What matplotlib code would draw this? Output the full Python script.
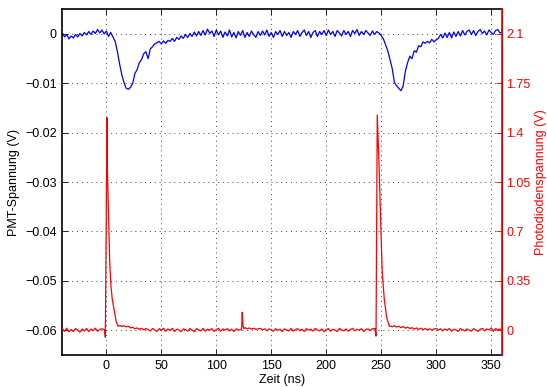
import numpy as np
import matplotlib
matplotlib.use("Agg")
import matplotlib.pyplot as plt
from matplotlib.ticker import FixedLocator, FixedFormatter

plt.rcParams['font.family'] = ['Liberation Sans', 'DejaVu Sans']
plt.rcParams['font.size'] = 9

# sampling grid (ns), 2 ns steps
t = np.arange(-40, 362, 2)

# PMT signal in mV, one value per grid point
pmt_mV = [
    0.2, -0.6, -0.1, -1.0, -0.4, -0.8, -0.1, -0.6, 0.1, -0.4,
    0.3, -0.2, 0.5, -0.1, 0.6, 0.1, 0.9, 0.2, 0.8, 0.0,
    0.6, -0.5, 0.3, -0.6, -1.5, -3.5, -6.0, -8.2, -9.8, -11.0,
    -11.2, -10.8, -10.0, -8.0, -7.2, -5.8, -5.2, -4.0, -3.6, -5.0,
    -3.0, -2.6, -2.0, -1.8, -1.5, -2.0, -1.4, -1.9, -1.3, -1.5,
    -0.9, -1.5, -0.7, -1.1, -0.4, -0.9, -0.1, -0.7, 0.1, -0.5,
    0.4, -0.4, 0.5, -0.3, 0.7, -0.2, 1.0, 0.1, 0.6, -0.5,
    0.8, -0.2, 0.6, -0.7, 0.4, -0.4, 0.8, -0.6, 0.3, -0.8,
    0.5, -0.3, 0.7, -0.7, 0.3, -0.5, 0.6, -0.1, -0.7, 0.5,
    -0.3, 0.6, -0.2, 0.8, -0.5, 0.3, -0.7, 0.5, -0.1, 0.7,
    -0.5, 0.5, -0.3, 0.3, -0.7, 0.5, -0.1, 0.7, -0.5, 0.3,
    0.8, -0.3, 0.5, -0.7, 0.3, 0.7, -0.5, 0.5, -0.1, 0.7,
    -0.3, 0.8, -0.1, 0.5, -0.5, 0.7, 0.2, -0.4, 0.7, -0.1,
    0.5, -0.5, 0.7, 0.1, 0.9, -0.3, 0.5, -0.1, 0.7, 0.2,
    -0.3, 0.6, -0.1, 0.5, 0.2, -0.3, -1.0, -2.2, -3.4, -5.2,
    -7.0, -9.8, -10.5, -11.0, -11.5, -10.5, -7.5, -5.8, -4.5, -5.0,
    -3.4, -3.7, -2.4, -2.6, -1.6, -1.9, -1.5, -1.8, -1.1, -1.6,
    -1.2, -0.9, -0.1, -0.8, 0.2, -0.7, 0.3, -0.8, 0.4, -0.5,
    0.5, -0.4, 0.7, -0.2, 0.5, 0.8, -0.1, 0.7, -0.3, 0.5,
    0.9, 0.1, 0.6, -0.2, 0.8, 0.3, -0.1, 0.7, 0.9, 0.2,
    0.4,
]

# photodiode baseline in V on the same grid (pulse regions replaced below)
pd_base = [
    0.010, -0.008, 0.014, -0.012, 0.005, -0.010, 0.012, 0.000, -0.014, 0.008,
    -0.006, 0.012, -0.010, 0.008, -0.003, 0.014, -0.008, 0.006, 0.010, -0.005,
    0.0, 0.0, 0.0, 0.0, 0.0, 0.0, 0.034, 0.026, 0.032, 0.024,
    0.028, 0.016, 0.020, 0.010, 0.016, 0.006, 0.014, 0.002, 0.012, 0.004,
    -0.006, 0.012, 0.002, -0.010, 0.011, 0.000, 0.014, -0.008, 0.009, -0.003,
    0.013, -0.009, 0.007, 0.002, -0.011, 0.009, 0.004, -0.007, 0.012, 0.000,
    -0.010, 0.011, 0.002, -0.005, 0.013, -0.007, 0.007, 0.000, 0.011, -0.009,
    0.005, 0.013, -0.007, 0.009, 0.000, 0.011, -0.005, 0.007, -0.009, 0.009,
    0.002, 0.0, 0.0, 0.018, 0.010, 0.016, 0.008, 0.014, 0.006, 0.010,
    0.013, 0.003, 0.010, -0.005, 0.009, 0.002, -0.007, 0.011, 0.000, 0.007,
    -0.009, 0.009, 0.002, -0.005, 0.013, -0.007, 0.004, 0.011, -0.003, 0.007,
    -0.009, 0.011, 0.000, 0.007, -0.007, 0.013, 0.002, -0.005, 0.009, -0.011,
    0.005, 0.011, -0.007, 0.007, 0.000, -0.009, 0.013, 0.002, -0.005, 0.009,
    -0.007, 0.005, 0.013, -0.005, 0.007, 0.000, 0.011, -0.009, 0.005, 0.009,
    -0.003, 0.011, 0.010, 0.0, 0.0, 0.0, 0.0, 0.0, 0.0, 0.030,
    0.024, 0.032, 0.022, 0.028, 0.018, 0.026, 0.014, 0.022, 0.012, 0.018,
    0.008, 0.016, 0.006, 0.014, 0.004, 0.012, 0.002, 0.010, 0.000, 0.009,
    0.012, 0.001, 0.010, -0.005, 0.009, 0.000, 0.012, -0.007, 0.007, 0.002,
    -0.009, 0.011, 0.004, -0.005, 0.009, 0.000, -0.007, 0.011, 0.002, -0.009,
    0.007, 0.013, -0.005, 0.009, 0.002, 0.016, -0.007, 0.011, 0.004, 0.009,
    -0.005,
]

# laser pulses seen by the photodiode (finer sampling)
spike1_t = [-1.6, -0.9, 0.6, 0.9, 2.4, 3.0, 4.2, 5.4, 7.6, 9.0, 10.6]
spike1_v = [0.003, -0.05, 1.507, 1.16, 0.69, 0.50, 0.31, 0.22, 0.12, 0.06, 0.028]
spike2_t = [122.6, 123.2, 123.6, 124.3, 125.0]
spike2_v = [0.002, 0.03, 0.127, 0.03, 0.012]
spike3_t = [244.4, 245.3, 246.4, 248.1, 249.8, 251.0, 252.8, 255.0, 257.4]
spike3_v = [0.012, -0.042, 1.525, 1.16, 0.69, 0.40, 0.22, 0.09, 0.028]

pmt = np.array(pmt_mV) / 1000.0

keep = ~(((t > -2.5) & (t < 11)) | ((t > 121.5) & (t < 125.5)) | ((t > 244.2) & (t < 257.9)))
pd_t = np.concatenate([t[keep], spike1_t, spike2_t, spike3_t])
pd_v = np.concatenate([np.array(pd_base)[keep], spike1_v, spike2_v, spike3_v])
order = np.argsort(pd_t)
pd_t, pd_v = pd_t[order], pd_v[order]

fig = plt.figure(figsize=(5.47, 3.87), dpi=100)
ax = fig.add_axes([0.114, 0.083, 0.804, 0.893])
ax2 = ax.twinx()

ax.plot(t, pmt, color='blue', lw=0.9)
ax2.plot(pd_t, pd_v, color='red', lw=0.9)

ax.set_xlim(-40, 360)
ax.set_ylim(-0.065, 0.005)
ax2.set_ylim(-0.175, 2.275)

ax.set_xticks(np.arange(0, 351, 50))
ax.yaxis.set_major_locator(FixedLocator([-0.06, -0.05, -0.04, -0.03, -0.02, -0.01, 0]))
ax.yaxis.set_major_formatter(FixedFormatter(['\u22120.06', '\u22120.05', '\u22120.04', '\u22120.03',
                                             '\u22120.02', '\u22120.01', '0']))
ax2.yaxis.set_major_locator(FixedLocator([0, 0.35, 0.7, 1.05, 1.4, 1.75, 2.1]))
ax2.yaxis.set_major_formatter(FixedFormatter(['0', '0.35', '0.7', '1.05', '1.4', '1.75', '2.1']))

ax.grid(True, linestyle=(0, (1, 4)), color='#444444', lw=0.7)
ax.tick_params(direction='in', top=True, right=False, length=4, width=0.6, labelsize=9, pad=4)
ax2.tick_params(direction='in', colors='red', length=4, width=0.6, labelsize=9, pad=3)

for s in ['left', 'top', 'bottom']:
    ax.spines[s].set_linewidth(1.2)
ax2.spines['right'].set_color('red')
ax2.spines['right'].set_linewidth(1.2)
ax2.spines['left'].set_visible(False)
ax2.spines['top'].set_visible(False)
ax2.spines['bottom'].set_visible(False)

ax.set_xlabel('Zeit (ns)', fontsize=9, labelpad=1)
ax.set_ylabel('PMT-Spannung (V)', fontsize=9)
ax2.set_ylabel('Photodiodenspannung (V)', color='red', fontsize=9)
ax.yaxis.set_label_coords(-0.096, 0.5)
ax2.yaxis.set_label_coords(1.075, 0.5)

fig.savefig('out.png', dpi=100)
